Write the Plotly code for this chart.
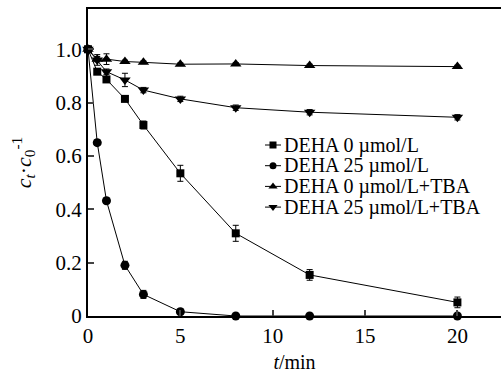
import plotly.graph_objects as go

t_sq = [0, 0.5, 1, 2, 3, 5, 8, 12, 20]
c_sq = [1.0, 0.916, 0.887, 0.814, 0.716, 0.535, 0.31, 0.154, 0.051]
e_sq = [0.01, 0.01, 0.01, 0.01, 0.015, 0.03, 0.03, 0.02, 0.02]

t_ci = [0, 0.5, 1, 2, 3, 5, 8, 12, 20]
c_ci = [1.0, 0.65, 0.432, 0.19, 0.081, 0.016, 0.0, 0.0, 0.0]
e_ci = [0.01, 0.01, 0.01, 0.015, 0.015, 0.01, 0.005, 0.005, 0.005]

t_up = [0, 0.5, 1, 2, 3, 5, 8, 12, 20]
c_up = [1.0, 0.963, 0.963, 0.954, 0.951, 0.944, 0.945, 0.939, 0.935]
e_up = [0.01, 0.01, 0.02, 0.005, 0.005, 0.005, 0.005, 0.005, 0.005]

t_dn = [0, 0.5, 1, 2, 3, 5, 8, 12, 20]
c_dn = [1.0, 0.96, 0.916, 0.885, 0.847, 0.814, 0.781, 0.764, 0.745]
e_dn = [0.01, 0.02, 0.01, 0.025, 0.01, 0.01, 0.01, 0.01, 0.01]

names = ["DEHA 0 µmol/L", "DEHA 25 µmol/L", "DEHA 0 µmol/L+TBA", "DEHA 25 µmol/L+TBA"]
symbols = ["square", "circle", "triangle-up", "triangle-down"]
sizes = [8, 9, 10, 10]
leg_sizes = [7, 7, 8, 8]

x_ticks = [0, 5, 10, 15, 20]
x_ticktext = ["0", "5", "10", "15", "20"]
y_ticks = [0, 0.2, 0.4, 0.6, 0.8, 1.0]
y_ticktext = ["0", "0.2", "0.4", "0.6", "0.8", "1.0"]

FONT = "Liberation Serif"
TF = dict(family=FONT, size=20, color="black")
TICKF = dict(family="Times New Roman, Liberation Serif, serif", size=21, color="black")

fig = go.Figure()
for t, c, e, n, s, sz in zip([t_sq, t_ci, t_up, t_dn], [c_sq, c_ci, c_up, c_dn],
                             [e_sq, e_ci, e_up, e_dn], names, symbols, sizes):
    fig.add_trace(go.Scatter(
        x=t, y=c, name=n, mode="lines+markers", showlegend=False,
        line=dict(color="black", width=1),
        marker=dict(symbol=s, size=sz, color="black"),
        error_y=dict(type="data", array=e, visible=True, color="black", thickness=1, width=3),
        cliponaxis=False,
    ))

# custom legend on a pixel-coordinate overlay axis
leg_x0, leg_x1, leg_tx = 265, 281, 282
leg_y0, leg_dy = 145, 20.7
for i, (n, s, lsz) in enumerate(zip(names, symbols, leg_sizes)):
    yy = leg_y0 + i * leg_dy
    fig.add_trace(go.Scatter(
        x=[leg_x0, (leg_x0 + leg_x1) / 2, leg_x1], y=[yy, yy, yy],
        xaxis="x2", yaxis="y2", mode="lines", showlegend=False,
        line=dict(color="black", width=1), hoverinfo="skip"))
    fig.add_trace(go.Scatter(
        x=[(leg_x0 + leg_x1) / 2], y=[yy], xaxis="x2", yaxis="y2", mode="markers",
        showlegend=False, marker=dict(symbol=s, size=lsz, color="black"), hoverinfo="skip"))
    fig.add_annotation(x=leg_tx, y=yy, xref="x2", yref="y2", text=n, showarrow=False,
                       xanchor="left", yanchor="middle", font=TF)

fig.update_layout(
    template="none",
    width=501, height=379,
    margin=dict(l=88, r=0, t=9, b=63, pad=0),
    plot_bgcolor="white", paper_bgcolor="white",
    font=TF,
    showlegend=False,
    xaxis=dict(range=[0, 22.36], tickmode="array", tickvals=x_ticks, ticktext=x_ticktext,
               ticks="inside", ticklen=6, tickfont=TICKF, ticklabelstandoff=0,
               tickwidth=1.5, showline=True, linewidth=2, linecolor="black", mirror=True,
               showgrid=False, zeroline=False,
               title=dict(text="<i>t</i>/min", standoff=8, font=TF)),
    yaxis=dict(range=[0, 1.151], tickmode="array", tickvals=y_ticks, ticktext=y_ticktext,
               ticks="inside", tickfont=TICKF,
               ticklen=6, tickwidth=1.5, showline=True, linewidth=2, linecolor="black",
               showgrid=False, zeroline=False,
               title=dict(text="<i>c</i><sub><i>t</i></sub>·<i>c</i><sub>0</sub><sup>-1</sup>",
                          standoff=18, font=dict(family=FONT, size=22, color="black"))),
    xaxis2=dict(overlaying="x", range=[88, 501], showticklabels=False, showline=False,
                showgrid=False, zeroline=False, ticks="", fixedrange=True),
    yaxis2=dict(overlaying="y", range=[316, 9], showticklabels=False, showline=False,
                showgrid=False, zeroline=False, ticks="", fixedrange=True),
)
fig.update_xaxes(minor=dict(tickvals=[2.5, 7.5, 12.5, 17.5], ticks="inside", ticklen=4,
                            tickwidth=1.5, showgrid=False), selector=dict(anchor="y"))
fig.update_yaxes(minor=dict(tickvals=[0.1, 0.3, 0.5, 0.7, 0.9, 1.1], ticks="inside", ticklen=4,
                            tickwidth=1.5, showgrid=False), selector=dict(anchor="x"))

fig.write_html("out.html")
